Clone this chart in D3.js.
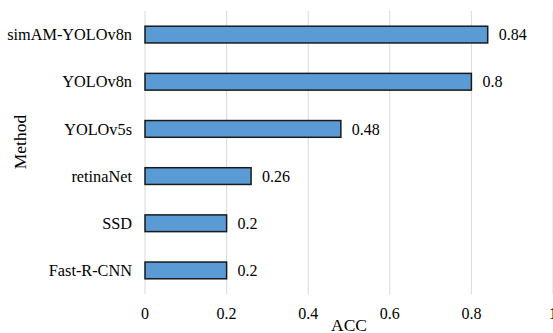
<!DOCTYPE html>
<html>
<head>
<meta charset="utf-8">
<script src="https://cdn.jsdelivr.net/npm/d3@7"></script>
<style>
  html, body { margin: 0; padding: 0; background: #fff; }
  svg { display: block; }
</style>
</head>
<body>
<svg id="chart" width="553" height="333"></svg>
<script>
// Accuracy of each detection method
const methods = ["simAM-YOLOv8n", "YOLOv8n", "YOLOv5s", "retinaNet", "SSD", "Fast-R-CNN"];
const accValues = [0.84, 0.8, 0.48, 0.26, 0.2, 0.2];
const xTicks = [0, 0.2, 0.4, 0.6, 0.8, 1];
const xTickLabels = ["0", "0.2", "0.4", "0.6", "0.8", "1"];

const FONT = "'Liberation Serif'";
const svg = d3.select("#chart");
const margin = { left: 145, right: 0, top: 11, bottom: 39 };
const H = 333;

const x = d3.scaleLinear().domain([0, 1]).range([margin.left, 553]);
const y = d3.scaleBand().domain(methods).range([margin.top, H - margin.bottom]).paddingInner(0.645).paddingOuter(0.3225);

// vertical gridlines
svg.append("g").selectAll("line").data(xTicks).join("line")
  .attr("x1", d => x(d)).attr("x2", d => x(d))
  .attr("y1", margin.top).attr("y2", H - margin.bottom)
  .attr("stroke", "#d9d9d9").attr("stroke-width", 1);

// bars
svg.append("g").selectAll("rect").data(methods).join("rect")
  .attr("x", x(0))
  .attr("y", d => y(d))
  .attr("width", (d, i) => x(accValues[i]) - x(0))
  .attr("height", y.bandwidth())
  .attr("fill", "#5b9bd5")
  .attr("stroke", "#1a1a1a")
  .attr("stroke-width", 1.5);

// value labels
svg.append("g").selectAll("text").data(methods).join("text")
  .attr("x", (d, i) => x(accValues[i]) + 11)
  .attr("y", d => y(d) + y.bandwidth() / 2)
  .attr("dy", "0.35em")
  .style("font-family", FONT).style("font-size", "16px")
  .text((d, i) => String(accValues[i]));

// category labels
svg.append("g").selectAll("text").data(methods).join("text")
  .attr("x", x(0) - 13)
  .attr("y", d => y(d) + y.bandwidth() / 2)
  .attr("dy", "0.35em")
  .attr("text-anchor", "end")
  .style("font-family", FONT).style("font-size", "16.3px")
  .text(d => d);

// x tick labels
svg.append("g").selectAll("text").data(xTicks).join("text")
  .attr("x", d => x(d))
  .attr("y", 313)
  .attr("dy", "0.35em")
  .attr("text-anchor", "middle")
  .style("font-family", FONT).style("font-size", "16px")
  .text((d, i) => xTickLabels[i]);

// axis titles
svg.append("text")
  .attr("x", 349).attr("y", 325).attr("dy", "0.35em")
  .attr("text-anchor", "middle")
  .style("font-family", FONT).style("font-size", "17.5px")
  .text("ACC");

svg.append("text")
  .attr("transform", "translate(20,142) rotate(-90)")
  .attr("dy", "0.35em")
  .attr("text-anchor", "middle")
  .style("font-family", FONT).style("font-size", "17.5px")
  .text("Method");
</script>
</body>
</html>
